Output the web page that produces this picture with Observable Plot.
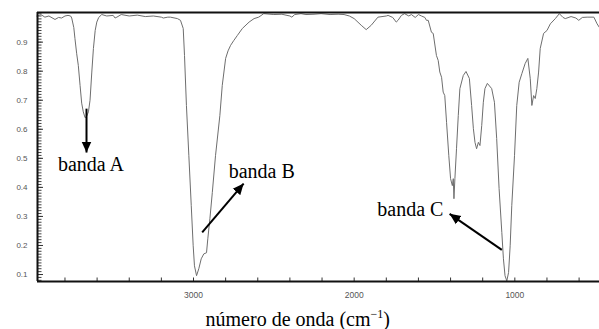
<!DOCTYPE html>
<html><head><meta charset="utf-8">
<script src="https://cdn.jsdelivr.net/npm/d3@7"></script>
<script src="https://cdn.jsdelivr.net/npm/@observablehq/plot@0.6"></script>
<style>html,body{margin:0;padding:0;background:#fff} svg{display:block}</style>
</head><body><div id="chart"></div>
<script>
// IR spectrum: wavenumber (cm-1) and transmittance
const wavenumber = [3975,3950,3925,3900,3862,3840,3821,3800,3781,3765,3758,3745,3738,3727,3717,3706,3696,3686,3675,3665,3654,3644,3633,3623,3612,3602,3590,3571,3540,3500,3488,3477,3450,3400,3350,3300,3250,3200,3188,3160,3144,3100,3081,3064,3056,3044,3029,3014,3002,2994,2981,2967,2952,2936,2919,2911,2898,2883,2863,2836,2821,2800,2785,2769,2750,2727,2696,2654,2623,2594,2563,2500,2450,2400,2388,2370,2331,2300,2250,2206,2150,2100,2063,2030,2000,1956,1925,1894,1852,1800,1789,1760,1738,1727,1706,1686,1660,1644,1620,1600,1581,1560,1550,1539,1519,1508,1488,1477,1467,1456,1446,1436,1425,1411,1400,1389,1383,1379,1373,1363,1352,1342,1321,1304,1283,1269,1258,1248,1238,1227,1217,1206,1196,1186,1171,1144,1127,1113,1098,1081,1071,1061,1050,1039,1029,1019,1002,988,973,956,936,919,904,894,883,873,863,852,842,821,800,779,748,723,700,686,650,620,602,580,550,508,488,473];
const transmittance = [0.990,0.995,0.986,0.990,0.978,0.985,0.983,0.990,0.992,0.990,0.983,0.950,0.913,0.860,0.820,0.751,0.690,0.660,0.640,0.645,0.660,0.700,0.797,0.878,0.940,0.969,0.985,0.995,0.990,0.992,0.983,0.986,0.995,0.990,0.993,0.988,0.990,0.986,0.983,0.986,0.986,0.981,0.975,0.947,0.854,0.682,0.509,0.337,0.199,0.130,0.096,0.120,0.154,0.171,0.175,0.223,0.292,0.382,0.509,0.647,0.751,0.844,0.870,0.889,0.905,0.923,0.947,0.969,0.981,0.986,0.998,0.995,0.996,0.990,0.986,0.995,0.998,0.995,0.996,0.998,0.995,0.996,0.995,0.990,0.981,0.958,0.943,0.958,0.986,0.990,0.992,0.985,0.969,0.975,0.992,0.998,0.990,0.995,0.985,0.995,0.990,0.985,0.975,0.975,0.934,0.930,0.854,0.837,0.797,0.779,0.728,0.716,0.624,0.509,0.430,0.406,0.430,0.361,0.430,0.533,0.647,0.740,0.785,0.799,0.775,0.682,0.602,0.555,0.533,0.555,0.544,0.613,0.693,0.740,0.758,0.740,0.693,0.568,0.396,0.245,0.154,0.096,0.078,0.107,0.199,0.337,0.509,0.682,0.762,0.792,0.826,0.844,0.774,0.682,0.716,0.706,0.740,0.797,0.878,0.930,0.940,0.963,0.981,0.998,0.985,0.981,0.988,0.983,0.975,0.985,0.986,0.986,0.963,0.950];

const xTickLabels = [3000, 2000, 1000];
const xMinorTicks = [3800,3600,3400,3200,3000,2800,2600,2400,2200,2000,1800,1600,1400,1200,1000,800,600];
const yTickLabels = [0.1,0.2,0.3,0.4,0.5,0.6,0.7,0.8,0.9];
const yMinorTicks = d3.range(8, 101).map(i => i / 100);

const bandLabels = ["banda A", "banda B", "banda C"];
const labelWn = [3844, 2781, 1856];
const labelT = [0.458, 0.432, 0.302];
const arrowFromWn = [3666, 2946, 1081];
const arrowFromT = [0.671, 0.245, 0.185];
const arrowToWn = [3666, 2688, 1406];
const arrowToT = [0.520, 0.413, 0.309];

const xTitle = "número de onda (cm";
const xTitleSup = "−1";
const xTitleEnd = ")";
const xTitleWn = 2925;

const xDomain = [3971, 473];
const yDomain = [0.076, 1.002];

const spectrum = wavenumber.map((w, i) => ({w, t: transmittance[i]}));
const labels = bandLabels.map((s, i) => ({s, w: labelWn[i], t: labelT[i]}));
const arrows = bandLabels.map((s, i) => ({x1: arrowFromWn[i], y1: arrowFromT[i], x2: arrowToWn[i], y2: arrowToT[i]}));

function solidHead(color) {
  const m = d3.create("svg:marker")
    .attr("viewBox", "-10 -5 10 10")
    .attr("refX", 0).attr("refY", 0)
    .attr("markerWidth", 5.5).attr("markerHeight", 5.5)
    .attr("orient", "auto")
    .attr("fill", color).attr("stroke", "none");
  m.append("path").attr("d", "M-10,-4.5L0,0L-10,4.5Z");
  return m.node();
}

const W = 599, H = 329;
const mL = 37, mT = 12, mB = 48, mR = 0;
const frameW = W - mL - mR, frameH = H - mT - mB;

const sans = "Liberation Sans, Arial, sans-serif";
const serif = "Liberation Serif, Times New Roman, serif";

const plot = Plot.plot({
  width: W, height: H,
  marginLeft: mL, marginTop: mT, marginBottom: mB, marginRight: mR,
  x: {domain: xDomain},
  y: {domain: yDomain},
  style: {background: "#fff", overflow: "visible"},
  marks: [
    Plot.tickX(xMinorTicks, {x: d => d, insetTop: frameH - 3.5, stroke: "#333", strokeWidth: 1}),
    Plot.tickY(yMinorTicks, {y: d => d, insetRight: frameW - 4.5, stroke: "#444", strokeWidth: 1}),
    Plot.tickY(yTickLabels, {y: d => d, insetRight: frameW - 6, stroke: "#333", strokeWidth: 1}),
    Plot.axisX({ticks: xTickLabels, tickSize: 0, tickPadding: 10, tickFormat: d => String(d), label: null, fontSize: 8.5, fontFamily: sans, fill: "#555"}),
    Plot.axisY({ticks: yTickLabels, tickSize: 0, tickPadding: 10, tickFormat: d3.format(".1f"), label: null, fontSize: 8, fontFamily: sans, fill: "#555"}),
    Plot.line(spectrum, {x: "w", y: "t", stroke: "#6e6e6e", strokeWidth: 1}),
    Plot.ruleY([yDomain[1]], {stroke: "#111", strokeWidth: 2}),
    Plot.ruleY([yDomain[0]], {stroke: "#111", strokeWidth: 2}),
    Plot.ruleX([xDomain[0]], {stroke: "#111", strokeWidth: 2}),
    Plot.link(arrows, {x1: "x1", y1: "y1", x2: "x2", y2: "y2", stroke: "#000", strokeWidth: 2, markerEnd: solidHead}),
    Plot.text(labels, {x: "w", y: "t", text: "s", textAnchor: "start", lineAnchor: "bottom", fontSize: 20, fontFamily: serif, fill: "#000"}),
    Plot.text([xTitle], {x: [xTitleWn], frameAnchor: "bottom", dy: 44, textAnchor: "start", lineAnchor: "bottom", fontSize: 20, fontFamily: serif, fill: "#000"})
  ]
});

// superscript in axis title
const titleEl = Array.from(plot.querySelectorAll("text")).find(el => el.textContent === xTitle);
if (titleEl) {
  const ns = "http://www.w3.org/2000/svg";
  const sup = document.createElementNS(ns, "tspan");
  sup.setAttribute("dy", "-8");
  sup.setAttribute("font-size", "12");
  sup.textContent = xTitleSup;
  const end = document.createElementNS(ns, "tspan");
  end.setAttribute("dy", "8");
  end.textContent = xTitleEnd;
  titleEl.appendChild(sup);
  titleEl.appendChild(end);
}
document.getElementById("chart").appendChild(plot);
</script>
</body></html>
